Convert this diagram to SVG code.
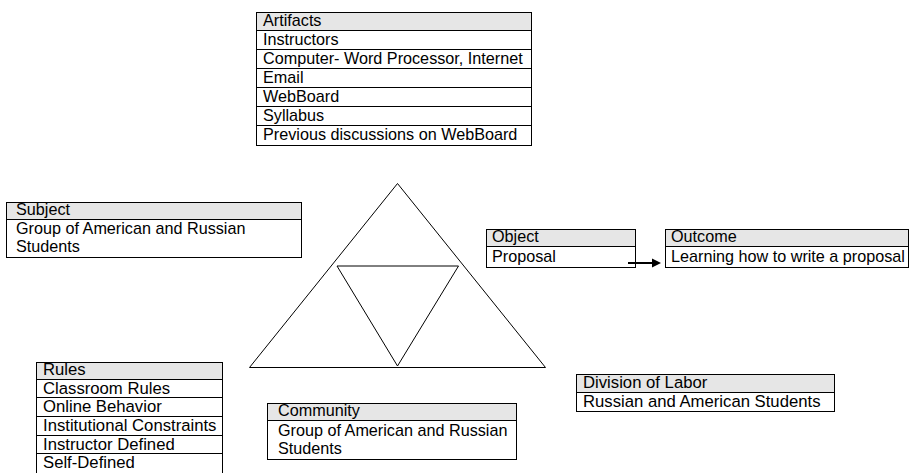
<svg xmlns="http://www.w3.org/2000/svg" width="911" height="473" viewBox="0 0 911 473">
  <style>
    text { font-family: "Liberation Sans", Arial, sans-serif; font-size: 16.2px; fill: #000; }
    .wide text { font-size: 16.7px; }
    .box { fill: #fff; stroke: #000; stroke-width: 1; }
    .head { fill: #e6e6e6; stroke: #000; stroke-width: 1; }
    .rule { stroke: #000; stroke-width: 1; }
    .tri { fill: none; stroke: #000; stroke-width: 1; }
  </style>

  <rect width="911" height="473" fill="#fff"/>

  <!-- activity triangle -->
  <g id="triangle">
    <polygon class="tri" points="397.5,183.5 249.5,367.5 545.5,367.5"/>
    <polygon class="tri" points="337,266 458.5,266 397.5,366" stroke-width="1.2"/>
  </g>

  <!-- Artifacts -->
  <g id="artifacts">
    <rect class="box" x="256.5" y="12.5" width="275" height="133"/>
    <rect class="head" x="256.5" y="12.5" width="275" height="18"/>
    <line class="rule" x1="256.5" y1="49.5" x2="531.5" y2="49.5"/>
    <line class="rule" x1="256.5" y1="68.5" x2="531.5" y2="68.5"/>
    <line class="rule" x1="256.5" y1="87.5" x2="531.5" y2="87.5"/>
    <line class="rule" x1="256.5" y1="106.5" x2="531.5" y2="106.5"/>
    <line class="rule" x1="256.5" y1="125.5" x2="531.5" y2="125.5"/>
    <text x="263" y="26">Artifacts</text>
    <text x="263" y="45">Instructors</text>
    <text x="263" y="64">Computer- Word Processor, Internet</text>
    <text x="263" y="83">Email</text>
    <text x="263" y="102">WebBoard</text>
    <text x="263" y="121">Syllabus</text>
    <text x="263" y="140">Previous discussions on WebBoard</text>
  </g>

  <!-- Subject -->
  <g id="subject">
    <rect class="box" x="6.5" y="202.5" width="295" height="55"/>
    <rect class="head" x="6.5" y="202.5" width="295" height="17"/>
    <text x="16" y="215">Subject</text>
    <text x="16" y="234">Group of American and Russian</text>
    <text x="16" y="252">Students</text>
  </g>

  <!-- Object -->
  <g id="object">
    <rect class="box" x="486.5" y="229.5" width="149" height="38"/>
    <rect class="head" x="486.5" y="229.5" width="149" height="17"/>
    <text x="492" y="242">Object</text>
    <text x="492" y="262">Proposal</text>
  </g>

  <!-- Outcome -->
  <g id="outcome">
    <rect class="box" x="665.5" y="229.5" width="243" height="38"/>
    <rect class="head" x="665.5" y="229.5" width="243" height="17"/>
    <text x="671" y="242">Outcome</text>
    <text x="671" y="262">Learning how to write a proposal</text>
  </g>

  <!-- Rules (table runs past the lower edge) -->
  <g id="rules" class="wide">
    <rect class="box" x="36.5" y="362.5" width="186" height="120"/>
    <rect class="head" x="36.5" y="362.5" width="186" height="17"/>
    <line class="rule" x1="36.5" y1="397.5" x2="222.5" y2="397.5"/>
    <line class="rule" x1="36.5" y1="416.5" x2="222.5" y2="416.5"/>
    <line class="rule" x1="36.5" y1="435.5" x2="222.5" y2="435.5"/>
    <line class="rule" x1="36.5" y1="453.5" x2="222.5" y2="453.5"/>
    <text x="43" y="375">Rules</text>
    <text x="43" y="393.5">Classroom Rules</text>
    <text x="43" y="412">Online Behavior</text>
    <text x="43" y="431">Institutional Constraints</text>
    <text x="43" y="449.5">Instructor Defined</text>
    <text x="43" y="467.5">Self-Defined</text>
  </g>

  <!-- Community -->
  <g id="community">
    <rect class="box" x="267.5" y="403.5" width="249" height="56"/>
    <rect class="head" x="267.5" y="403.5" width="249" height="17"/>
    <text x="278" y="416">Community</text>
    <text x="278" y="436">Group of American and Russian</text>
    <text x="278" y="454">Students</text>
  </g>

  <!-- Division of Labor -->
  <g id="division" class="wide">
    <rect class="box" x="576.5" y="374.5" width="258" height="37"/>
    <rect class="head" x="576.5" y="374.5" width="258" height="18"/>
    <text x="583" y="388">Division of Labor</text>
    <text x="583" y="407">Russian and American Students</text>
  </g>

  <!-- connectors -->
  <g id="connectors">
    <line x1="628" y1="263" x2="653" y2="263" stroke="#000" stroke-width="2"/>
    <polygon points="652,258.5 661,263 652,267.5" fill="#000"/>
  </g>
</svg>
